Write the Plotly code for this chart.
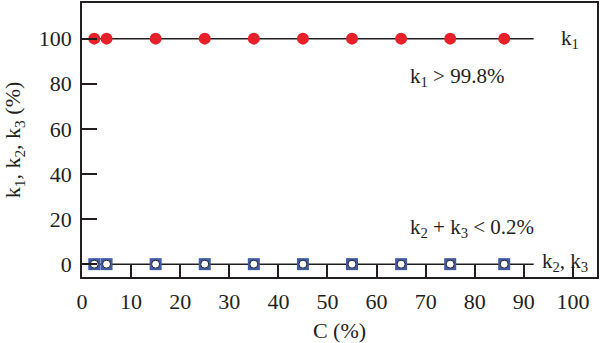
import plotly.graph_objects as go

C = [2.5, 5, 15, 25, 35, 45, 55, 65, 75, 86]
k1 = [100, 100, 100, 100, 100, 100, 100, 100, 100, 100]
k23 = [0, 0, 0, 0, 0, 0, 0, 0, 0, 0]
line_x = [0, 92]
line_k1 = [100, 100]
line_k23 = [0, 0]
x_ticks = [0, 10, 20, 30, 40, 50, 60, 70, 80, 90, 100]
y_ticks = [0, 20, 40, 60, 80, 100]

FONT = "Liberation Serif"
DARK = "#231f20"
FS = 22

fig = go.Figure()
fig.add_trace(go.Scatter(x=line_x, y=line_k1, mode="lines",
                         line=dict(color=DARK, width=1.5), showlegend=False))
fig.add_trace(go.Scatter(x=line_x, y=line_k23, mode="lines",
                         line=dict(color=DARK, width=1.5), showlegend=False))
fig.add_trace(go.Scatter(x=C, y=k1, mode="markers",
                         marker=dict(color="#e8202a", size=12, line=dict(width=0)),
                         showlegend=False))
fig.add_trace(go.Scatter(x=C, y=k23, mode="markers",
                         marker=dict(symbol="square", color="#3f5ba9", size=12, line=dict(width=0)),
                         showlegend=False))
fig.add_trace(go.Scatter(x=C, y=k23, mode="markers",
                         marker=dict(symbol="circle", color="white", size=8,
                                     line=dict(color=DARK, width=1)),
                         showlegend=False))

ann_font = dict(family=FONT, size=21, color=DARK)
fig.add_annotation(x=97.2, y=100, text="k<sub>1</sub>", showarrow=False,
                   xanchor="left", yanchor="middle", font=ann_font)
fig.add_annotation(x=66.5, y=83, text="k<sub>1</sub> &gt; 99.8%", showarrow=False,
                   xanchor="left", yanchor="middle", font=ann_font)
fig.add_annotation(x=66.5, y=16, text="k<sub>2</sub> + k<sub>3</sub> &lt; 0.2%", showarrow=False,
                   xanchor="left", yanchor="middle", font=ann_font)
fig.add_annotation(x=93.2, y=1, text="k<sub>2</sub>, k<sub>3</sub>", showarrow=False,
                   xanchor="left", yanchor="middle", font=ann_font)

fig.update_xaxes(range=[0, 104.9], tickvals=x_ticks, ticks="inside", ticklen=12,
                 tickwidth=1.5, tickcolor=DARK, showline=True, linecolor=DARK,
                 linewidth=1.5, mirror=True, showgrid=False, zeroline=False,
                 ticklabelstandoff=4, layer="above traces",
                 tickfont=dict(family=FONT, size=FS, color=DARK),
                 title=dict(text="C (%)", font=dict(family=FONT, size=FS, color=DARK), standoff=10))
fig.update_yaxes(range=[-5.7, 115.8], tickvals=y_ticks, ticks="inside", ticklen=15,
                 tickwidth=1.5, tickcolor=DARK, showline=True, linecolor=DARK,
                 linewidth=1.5, mirror=True, showgrid=False, zeroline=False,
                 ticklabelstandoff=4, layer="above traces",
                 tickfont=dict(family=FONT, size=FS, color=DARK),
                 title=dict(text="k<sub>1</sub>, k<sub>2</sub>, k<sub>3</sub> (%)",
                            font=dict(family=FONT, size=FS, color=DARK), standoff=12))

fig.update_layout(width=600, height=343, margin=dict(l=82, r=2, t=1, b=66),
                  plot_bgcolor="white", paper_bgcolor="white")

fig.write_html("out.html", config={"displayModeBar": False},
               post_script="document.body.style.margin='0';")
